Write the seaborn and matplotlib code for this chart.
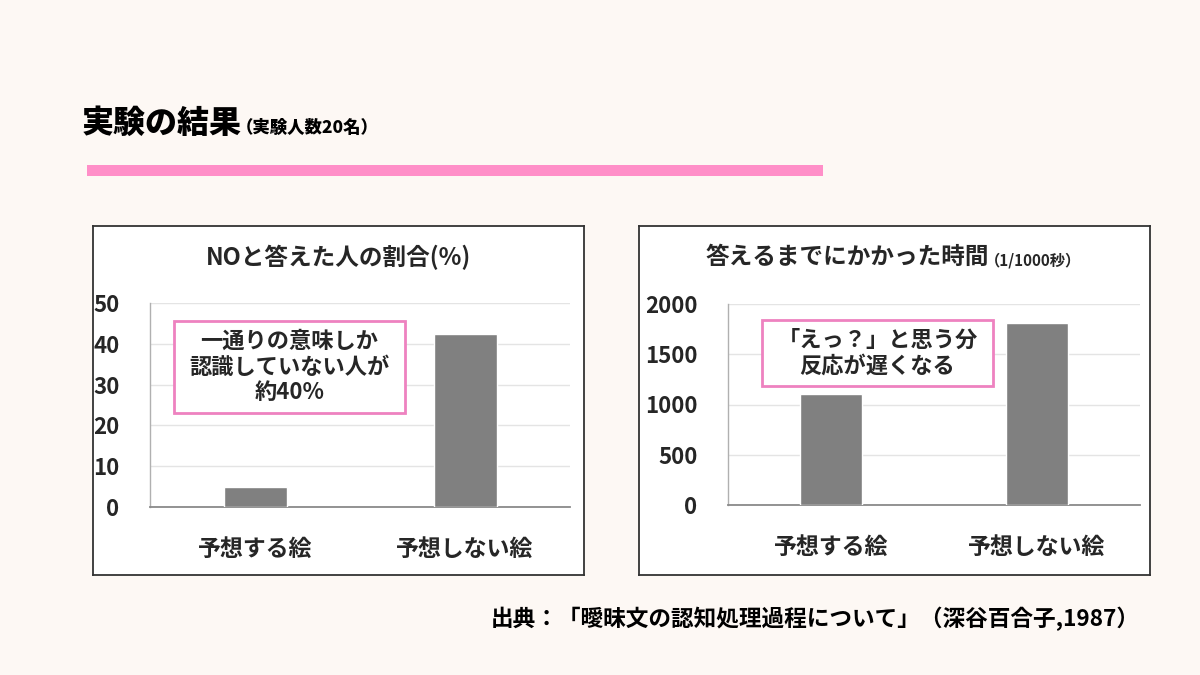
import matplotlib
matplotlib.use("Agg")
import matplotlib.pyplot as plt
import seaborn as sns
import pandas as pd
from matplotlib.patches import Rectangle

# ---- data ----
categories = ["予想する絵", "予想しない絵"]
no_ratio = [5, 42.4]
response_time = [1105, 1812]
left_ticks = [0, 10, 20, 30, 40, 50]
right_ticks = [0, 500, 1000, 1500, 2000]

title_main = "実験の結果"
title_sub = "（実験人数20名）"
left_title = "NOと答えた人の割合(%)"
right_title = "答えるまでにかかった時間"
right_title_unit = "（1/1000秒）"
left_note = "一通りの意味しか\n認識していない人が\n約40%"
right_note = "「えっ？」と思う分\n反応が遅くなる"
footer = "出典：「曖昧文の認知処理過程について」（深谷百合子,1987）"

sns.set_theme(style="white")
plt.rcParams['font.family'] = ['Noto Sans CJK JP', 'DejaVu Sans']

W, H = 1200, 675
BG = "#FDF8F4"
PINK = "#FF8FC8"
BOX_PINK = "#EE82C0"
BAR = "#808080"

fig = plt.figure(figsize=(12, 6.75), dpi=100)
fig.patch.set_facecolor(BG)


def rect(x0, y0, x1, y1):
    return [x0 / W, 1 - y1 / H, (x1 - x0) / W, (y1 - y0) / H]


def fx(x):
    return x / W


def fy(y):
    return 1 - y / H


# header
fig.text(fx(82), fy(123), title_main, fontsize=23, fontweight='heavy', va='center', ha='left', color='black')
fig.text(fx(236), fy(128), title_sub, fontsize=12.5, fontweight='heavy', va='center', ha='left', color='black')
fig.patches.append(Rectangle((fx(87), fy(176)), (823 - 87) / W, 11 / H, transform=fig.transFigure,
                             facecolor=PINK, edgecolor='none'))

# footer
fig.text(fx(1140), fy(619), footer, fontsize=16.3, fontweight='bold', va='center', ha='right', color='black')


def panel(box, plot, values, ticks, ymax, note, note_box):
    frame = fig.add_axes(rect(*box))
    frame.set_facecolor('white')
    frame.set_xticks([])
    frame.set_yticks([])
    for s in frame.spines.values():
        s.set_color('#333333')
        s.set_linewidth(1.3)

    ax = fig.add_axes(rect(*plot))
    ax.set_facecolor('white')
    df = pd.DataFrame({"cat": categories, "val": values})
    sns.barplot(data=df, x="cat", y="val", color=BAR, saturation=1, width=0.3, ax=ax, zorder=3)
    ax.set_xlim(-0.5, 1.5)
    ax.set_ylim(0, ymax)
    ax.set_yticks(ticks)
    ax.set_yticklabels([str(t) for t in ticks], fontsize=16, fontweight='bold')
    ax.set_xticklabels(categories, fontsize=16.5, fontweight='bold')
    ax.tick_params(axis='y', length=0, pad=22)
    ax.tick_params(axis='x', length=0, pad=22)
    ax.set_xlabel("")
    ax.set_ylabel("")
    ax.yaxis.grid(True, color='#E4E4E4', linewidth=1)
    ax.set_axisbelow(True)
    for k in ['top', 'right']:
        ax.spines[k].set_visible(False)
    ax.spines['left'].set_color('#B0B0B0')
    ax.spines['bottom'].set_color('#8A8A8A')
    ax.spines['left'].set_linewidth(1)
    ax.spines['bottom'].set_linewidth(1.3)

    nx0, ny0, nx1, ny1 = note_box
    fig.patches.append(Rectangle((fx(nx0), fy(ny1)), (nx1 - nx0) / W, (ny1 - ny0) / H,
                                 transform=fig.transFigure, facecolor='white',
                                 edgecolor=BOX_PINK, linewidth=2, zorder=5))
    fig.text(fx((nx0 + nx1) / 2), fy((ny0 + ny1) / 2), note, fontsize=16, fontweight='bold',
             ha='center', va='center', linespacing=1.15, zorder=6)
    return ax


panel((93, 226, 584, 575), (150, 303, 570, 507), no_ratio, left_ticks, 50,
      left_note, (174, 321, 405, 413))
panel((639, 226, 1150, 575), (728, 304, 1140, 505), response_time, right_ticks, 2000,
      right_note, (762, 320, 993, 386))

fig.text(fx(338), fy(257), left_title, fontsize=17, fontweight='bold', ha='center', va='center')
fig.text(fx(705), fy(257), right_title, fontsize=17, fontweight='bold', ha='left', va='center')
fig.text(fx(985), fy(260), right_title_unit, fontsize=11, fontweight='bold', ha='left', va='center')

fig.savefig("out.png", dpi=100, facecolor=BG)
